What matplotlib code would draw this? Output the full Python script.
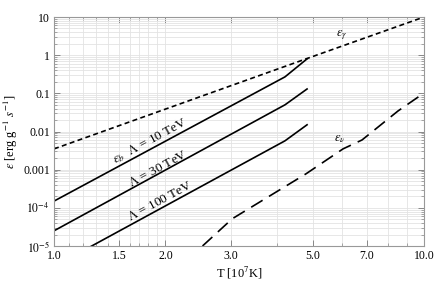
import matplotlib
matplotlib.use("Agg")
import matplotlib.pyplot as plt
import numpy as np
from matplotlib.ticker import FixedLocator, LogLocator, NullFormatter

plt.rcParams['font.family'] = ['Liberation Serif', 'DejaVu Serif']
plt.rcParams['mathtext.fontset'] = 'stix'

# emission rates vs temperature
T_gamma = [1.0, 4.8, 10.0]
eps_gamma = [0.0035, 0.8, 10.0]

T_b = [1.0, 4.21, 4.83]
eps_b10 = [1.5e-4, 0.27, 0.8]
eps_b30 = [2.5e-5, 0.05, 0.13]
eps_b100 = [2.9e-6, 0.0057, 0.015]

T_nu = [2.52, 3.03, 4.80, 6.04, 6.80, 8.51, 10.0]
eps_nu = [1e-5, 5.15e-5, 7.8e-4, 3.5e-3, 6.0e-3, 0.0346, 0.102]

xticks = [1.0, 1.5, 2.0, 3.0, 5.0, 7.0, 10.0]
xticklabels = ['1.0', '1.5', '2.0', '3.0', '5.0', '7.0', '10.0']
yticks = [1e-5, 1e-4, 1e-3, 1e-2, 0.1, 1, 10]
yticklabels = [r'$10^{-5}$', r'$10^{-4}$', '0.001', '0.01', '0.1', '1', '10']
xgrid = [1.1, 1.2, 1.3, 1.4, 1.5, 1.6, 1.7, 1.8, 1.9, 2, 3, 4, 5, 6, 7, 8, 9]

fig = plt.figure(figsize=(4.36, 2.83), dpi=100)
ax = fig.add_axes([54/436, 1-246/283, 370/436, 229/283])
ax.set_xscale('log')
ax.set_yscale('log')
ax.set_xlim(1.0, 10.0)
ax.set_ylim(1e-5, 10)

lw = 1.2
ax.plot(T_gamma, eps_gamma, color='black', lw=lw, dashes=[3, 2])
ax.plot(T_b, eps_b10, color='black', lw=lw)
ax.plot(T_b, eps_b30, color='black', lw=lw)
ax.plot(T_b, eps_b100, color='black', lw=lw)
ax.plot(T_nu, eps_nu, color='black', lw=lw, dashes=[8, 4.5])

# grid
gc = '#e3e3e3'
for g in xgrid:
    ax.axvline(g, color=gc, lw=0.6, zorder=0)
ax.yaxis.set_minor_locator(LogLocator(base=10, subs=np.arange(2, 10)))
ax.yaxis.set_minor_formatter(NullFormatter())
ax.grid(True, axis='y', which='both', color=gc, lw=0.6, zorder=0)

ax.set_xticks(xticks, xticklabels)
ax.xaxis.set_minor_locator(FixedLocator(xgrid))
ax.xaxis.set_minor_formatter(NullFormatter())
ax.set_yticks(yticks, yticklabels)

ax.tick_params(which='both', direction='in', top=True, right=True,
               color='#888888', labelsize=8.5, pad=3)
ax.tick_params(which='major', length=4, width=0.7)
ax.tick_params(which='minor', length=2, width=0.5)
for s in ax.spines.values():
    s.set_color('#999999')
    s.set_linewidth(0.8)

ax.set_xlabel(r'T [10$^7$K]', fontsize=9, labelpad=2)
ax.set_ylabel(r'$\epsilon$ [erg g$^{-1}$ $s^{-1}$]', fontsize=9, labelpad=2)

# curve labels (figure-pixel positions)
def fpos(px, py):
    return px / 436, 1 - py / 283

ax.text(*fpos(342, 35), r'$\epsilon_\gamma$', transform=fig.transFigure,
        fontsize=9, ha='center', va='center')
ax.text(*fpos(340, 139), r'$\epsilon_\nu$', transform=fig.transFigure,
        fontsize=9, ha='center', va='center')
ang = 28.5
lab = dict(transform=fig.transFigure, fontsize=9.5, ha='center', va='baseline',
           rotation=ang, rotation_mode='anchor')
ax.text(*fpos(152, 144), r'$\epsilon_b$  $\Lambda$ = 10 TeV', **lab)
ax.text(*fpos(160, 172), r'$\Lambda$ = 30 TeV', **lab)
ax.text(*fpos(162, 204), r'$\Lambda$ = 100 TeV', **lab)

fig.savefig('out.png', dpi=100)
